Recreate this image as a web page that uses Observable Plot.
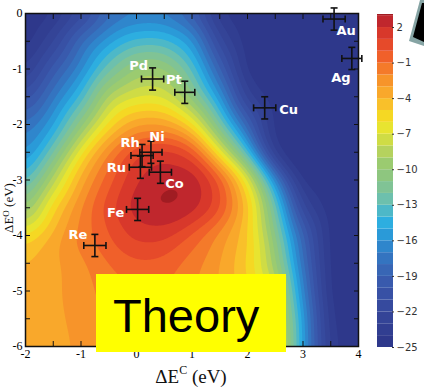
<!DOCTYPE html>
<html><head><meta charset="utf-8">
<script src="https://cdn.jsdelivr.net/npm/d3@7"></script>
<script src="https://cdn.jsdelivr.net/npm/@observablehq/plot@0.6"></script>
<style>
body{margin:0;background:#fff;}
#wrap{position:relative;width:424px;height:390px;overflow:hidden;background:#fff;}
#wrap > svg{position:absolute;}
#theory{position:absolute;left:96px;top:274px;width:190px;height:78px;background:#ffff00;}
#theory span{position:absolute;left:17px;top:18px;font:47px/47px "Liberation Sans",Arial,sans-serif;color:#000;white-space:nowrap;}
</style></head><body><div id="wrap"></div>
<script>
// ---- data ----
const gridX = [-2, -1.5, -1, -0.5, 0, 0.5, 1, 1.5, 2, 2.5, 3, 3.5, 4];       // ΔE^C (eV)
const gridY = [0, -0.5, -1, -1.5, -2, -2.5, -3, -3.5, -4, -4.5, -5, -5.5, -6]; // ΔE^O (eV)
const row0   = [-25, -24.5, -22, -18.5, -17.5, -17.5, -19.5, -24.5, -25, -25, -25, -25, -25];
const row05  = [-25, -22.3, -18, -15.3, -13.5, -13.5, -15.3, -22, -25, -25, -25, -25, -25];
const row10  = [-23.5, -19.5, -16.5, -12.3, -9.5, -9.5, -12.8, -19, -25, -25, -25, -25, -25];
const row15  = [-21, -17.3, -14, -8.3, -7, -7, -10.5, -15.7, -23.3, -25, -25, -25, -25];
const row20  = [-18, -15.3, -10.5, -5.5, -3, -3, -5.6, -12, -19, -25, -25, -25, -25];
const row25  = [-16.5, -12.3, -6, -1.8, 1.2, 1.8, 0.8, -6.5, -13.4, -24.5, -25, -25, -25];
const row30  = [-14, -8.3, -3.3, -0.3, 2, 3, 3, 0.5, -6, -16.2, -25, -25, -25];
const row35  = [-10.5, -5, -1.8, 0.8, 2.8, 3.3, 2.8, 0.8, -4, -12, -22.5, -25, -25];
const row40  = [-6, -3.5, -1.5, 0, 1.5, 1.5, -0.3, -2.5, -4.5, -10.5, -19, -25, -25];
const row45  = [-4, -3.3, -2.3, -1, -0.2, -0.4, -1.5, -3, -5, -9.3, -18, -25, -25];
const row50  = [-3.9, -3.2, -2.5, -1.5, -1, -1, -1.8, -3, -4.5, -7, -16.8, -25, -25];
const row55  = [-3.9, -3.3, -2.6, -1.8, -1.2, -1.2, -2, -3, -4.3, -6, -15.5, -24.5, -25];
const row60  = [-4, -3.4, -2.8, -2, -1.5, -1.3, -2, -3, -4, -5.3, -15.4, -24, -25];
const fieldRows = [row0, row05, row10, row15, row20, row25, row30, row35, row40, row45, row50, row55, row60];

const metals = ["Pd", "Pt", "Cu", "Au", "Ag", "Rh", "Ni", "Ru", "Co", "Fe", "Re"];
const dEC    = [0.29, 0.87, 2.31, 3.56, 3.88, 0.10, 0.26, 0.07, 0.43, 0.02, -0.75];
const dEO    = [-1.18, -1.42, -1.70, -0.10, -0.81, -2.56, -2.50, -2.77, -2.86, -3.53, -4.18];
const errC   = [0.2, 0.18, 0.2, 0.2, 0.18, 0.2, 0.2, 0.2, 0.2, 0.2, 0.2];
const errO   = [0.2, 0.2, 0.2, 0.2, 0.2, 0.2, 0.2, 0.2, 0.2, 0.2, 0.2];

const bandLevels = d3.range(-25, 4, 1);
const bandColors = ["#2e388b","#313e91","#344497","#364a9e","#3851a5","#395aad","#3866b5","#3474c0",
  "#2f86cc","#2a9ad8","#2daee0","#4db8c8","#6dc0ad","#80c395","#8ec67f","#9bcb70","#b5d25e","#cfdc45",
  "#e8e430","#f5d823","#f9c02a","#f9a82b","#f7942a","#f47a2a","#f0602a","#e64a2a","#d8382b","#c0272d","#a01c22"];
const xTicks = d3.range(-2, 4.01, 0.5);
const yTicks = d3.range(-6, 0.01, 0.5);
const cbarTicks = [2, -1, -4, -7, -10, -13, -16, -19, -22, -25];
const cbarTop = 3.1;

// ---- layout / style config ----
const labelOffset = {Pd:[-14,-13], Pt:[-11,-12], Cu:[24,2], Au:[12,12], Ag:[-11,19], Rh:[-12,-13],
  Ni:[6,-15], Ru:[-24,1], Co:[14,12], Fe:[-22,3], Re:[-17,-11]};

// ---- build ----
const samples = [];
gridY.forEach((y, j) => gridX.forEach((x, i) => samples.push({x, y, v: fieldRows[j][i]})));
const pts = metals.map((name, i) => ({name, c: dEC[i], o: dEO[i], ec: errC[i], eo: errO[i]}));
const colorOpt = {type: "linear", domain: bandLevels, range: bandColors, clamp: true};
// lowest contour threshold sits below the floor so the whole frame is covered
const contourThresholds = [bandLevels[0] - 5, ...bandLevels.slice(1)];
const capH = {draw(ctx, size){const r = Math.sqrt(size/Math.PI); ctx.moveTo(-r,0); ctx.lineTo(r,0);}};
const capV = {draw(ctx, size){const r = Math.sqrt(size/Math.PI); ctx.moveTo(0,-r); ctx.lineTo(0,r);}};
const fmtInt = d => Number.isInteger(d) ? String(d) : "";
const ink = "#111";

const main = Plot.plot({
  width: 360, height: 390,
  marginLeft: 25, marginRight: 2, marginTop: 13, marginBottom: 44,
  x: {domain: [-2, 4], label: null},
  y: {domain: [-6, 0], label: null},
  color: colorOpt,
  style: {fontFamily: "'Liberation Serif', serif", fontSize: "12px", color: "#000", background: "#fff", overflow: "visible"},
  marks: [
    Plot.contour(samples, {x: "x", y: "y", fill: "v", interpolate: "barycentric",
      thresholds: contourThresholds, pixelSize: 1, blur: 9, stroke: "none"}),
    Plot.link(pts, {x1: d => d.c - d.ec, x2: d => d.c + d.ec, y1: "o", y2: "o", stroke: ink, strokeWidth: 1.6}),
    Plot.link(pts, {x1: "c", x2: "c", y1: d => d.o - d.eo, y2: d => d.o + d.eo, stroke: ink, strokeWidth: 1.6}),
    Plot.dot(pts, {x: d => d.c - d.ec, y: "o", symbol: capV, r: 3.5, stroke: ink, fill: "none", strokeWidth: 1.6}),
    Plot.dot(pts, {x: d => d.c + d.ec, y: "o", symbol: capV, r: 3.5, stroke: ink, fill: "none", strokeWidth: 1.6}),
    Plot.dot(pts, {x: "c", y: d => d.o - d.eo, symbol: capH, r: 3.5, stroke: ink, fill: "none", strokeWidth: 1.6}),
    Plot.dot(pts, {x: "c", y: d => d.o + d.eo, symbol: capH, r: 3.5, stroke: ink, fill: "none", strokeWidth: 1.6}),
    ...pts.map(p => Plot.text([p], {x: "c", y: "o", text: "name", dx: labelOffset[p.name][0], dy: labelOffset[p.name][1],
      fill: "#fff", fontWeight: "bold", fontSize: 13, fontFamily: "DejaVu Sans"})),
    Plot.axisX({ticks: xTicks, tickSize: -5, tickPadding: 8, tickFormat: fmtInt, label: null, stroke: ink}),
    Plot.axisX({anchor: "top", ticks: xTicks, tickSize: -5, tickFormat: () => "", label: null, stroke: ink}),
    Plot.axisY({ticks: yTicks, tickSize: -5, tickPadding: 8, tickFormat: fmtInt, label: null, stroke: ink}),
    Plot.axisY({anchor: "right", ticks: yTicks, tickSize: -5, tickFormat: () => "", label: null, stroke: ink}),
    Plot.frame({stroke: ink, strokeWidth: 1.5})
  ]
});
main.style.left = "0px"; main.style.top = "0px";

const bands = bandLevels.map(t => ({lo: t, hi: Math.min(t + 1, cbarTop), a: 0, b: 1}));
const cbar = Plot.plot({
  width: 64, height: 390,
  marginLeft: 17, marginRight: 31, marginTop: 14, marginBottom: 43,
  x: {domain: [0, 1], axis: null},
  y: {domain: [-25, cbarTop], label: null},
  color: colorOpt,
  style: {fontFamily: "'DejaVu Sans', sans-serif", fontSize: "10px", color: "#333", background: "transparent", overflow: "visible"},
  marks: [
    Plot.rect(bands, {x1: "a", x2: "b", y1: "lo", y2: "hi", fill: "lo"}),
    Plot.axisY({anchor: "right", ticks: cbarTicks, tickSize: -2, tickPadding: 5, label: null,
      tickFormat: d => d < 0 ? "\u2212" + (-d) : String(d), stroke: "#333"})
  ]
});
cbar.style.left = "360px"; cbar.style.top = "0px";

const wrap = document.getElementById("wrap");
wrap.appendChild(main);
wrap.appendChild(cbar);

const ns = "http://www.w3.org/2000/svg";
const ov = document.createElementNS(ns, "svg");
ov.setAttribute("width", 424); ov.setAttribute("height", 390);
ov.style.left = "0px"; ov.style.top = "0px";
ov.innerHTML = `
 <polygon points="409,41 420,0 424,0 424,46" fill="#86a4a4"/>
 <polygon points="413,37 422,3 424,3 424,42" fill="#000"/>
 <text x="191" y="383" text-anchor="middle" font-family="Liberation Serif, serif" font-size="19" fill="#111">ΔE<tspan dy="-9" font-size="12">C</tspan><tspan dy="9"> (eV)</tspan></text>
 <text transform="translate(12.5,208) rotate(-90)" text-anchor="middle" font-family="Liberation Serif, serif" font-size="13" fill="#111">ΔE<tspan dy="-4" font-size="9">O</tspan><tspan dy="4"> (eV)</tspan></text>`;
wrap.appendChild(ov);

const th = document.createElement("div");
th.id = "theory";
th.innerHTML = "<span>Theory</span>";
wrap.appendChild(th);
</script>
</body></html>
